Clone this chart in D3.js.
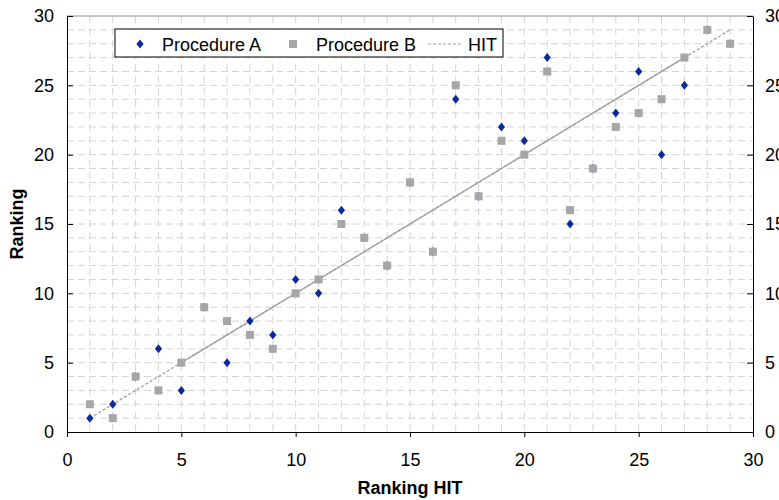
<!DOCTYPE html>
<html>
<head>
<meta charset="utf-8">
<script src="https://cdn.jsdelivr.net/npm/d3@7"></script>
<style>
  body { margin: 0; background: #fff; }
  text { font-family: "Liberation Sans", Arial, sans-serif; }
</style>
</head>
<body>
<svg id="chart" width="779" height="500"></svg>
<script>
// ranking HIT (x) for both procedures
var rankHit = [1, 2, 3, 4, 5, 6, 7, 8, 9, 10, 11, 12, 13, 14, 15,
               16, 17, 18, 19, 20, 21, 22, 23, 24, 25, 26, 27, 28, 29];
var procA = [1, 2, 4, 6, 3, 9, 5, 8, 7, 11, 10, 16, 14, 12, 18,
             13, 24, 17, 22, 21, 27, 15, 19, 23, 26, 20, 25, 29, 28];
var procB = [2, 1, 4, 3, 5, 9, 8, 7, 6, 10, 11, 15, 14, 12, 18,
             13, 25, 17, 21, 20, 26, 16, 19, 22, 23, 24, 27, 29, 28];
var hitLine = [1, 29];      // dashed reference line y = x
var hitSolid = [5, 27];     // solid part of it
var ticks = [0, 5, 10, 15, 20, 25, 30];
var legendNames = ["Procedure A", "Procedure B", "HIT"];

var plotLeft = 67, plotRight = 753, plotTop = 16, plotBottom = 432;
var blue = "#0a2a9e", grey = "#a6a6a6", lineGrey = "#a0a0a0";

var svg = d3.select("#chart");

var x = d3.scaleLinear().domain([0, 30]).range([plotLeft, plotRight]);
var y = d3.scaleLinear().domain([0, 30]).range([plotBottom, plotTop]);

// grid lines every unit
var grid = svg.append("g").attr("class", "grid");
grid.selectAll(".vg")
    .data(d3.range(1, 30))
  .enter().append("line")
    .attr("x1", function(d) { return x(d); })
    .attr("x2", function(d) { return x(d); })
    .attr("y1", plotTop)
    .attr("y2", plotBottom)
    .attr("stroke", "#d4d4d4")
    .attr("stroke-dasharray", "7,5");
grid.selectAll(".hg")
    .data(d3.range(1, 30))
  .enter().append("line")
    .attr("x1", plotLeft)
    .attr("x2", plotRight)
    .attr("y1", function(d) { return y(d); })
    .attr("y2", function(d) { return y(d); })
    .attr("stroke", "#d4d4d4")
    .attr("stroke-dasharray", "7,4");

// top border
svg.append("line")
    .attr("x1", plotLeft).attr("x2", plotRight)
    .attr("y1", plotTop).attr("y2", plotTop)
    .attr("stroke", "#8c8c8c");

// axes
var xAxis = d3.axisBottom(x).tickValues(ticks).tickSize(5).tickSizeOuter(0).tickPadding(16);
var yAxis = d3.axisLeft(y).tickValues(ticks).tickSize(-6).tickSizeOuter(0).tickPadding(13);
var yAxisR = d3.axisRight(y).tickValues(ticks).tickSize(-6).tickSizeOuter(0).tickPadding(12);

function styleAxis(g) {
  g.select(".domain").attr("stroke", "#000");
  g.selectAll(".tick line").attr("stroke", "#000");
  g.selectAll(".tick text")
      .attr("font-size", "18px")
      .attr("font-family", "Liberation Sans, Arial, sans-serif")
      .attr("fill", "#000");
}

svg.append("g").attr("transform", "translate(0," + plotBottom + ")").call(xAxis).call(styleAxis);
svg.append("g").attr("transform", "translate(" + plotLeft + ",0)").call(yAxis).call(styleAxis);
svg.append("g").attr("transform", "translate(" + plotRight + ",0)").call(yAxisR).call(styleAxis);

// HIT line
svg.append("line")
    .attr("x1", x(hitLine[0])).attr("y1", y(hitLine[0]))
    .attr("x2", x(hitLine[1])).attr("y2", y(hitLine[1]))
    .attr("stroke", lineGrey)
    .attr("stroke-width", 1.3)
    .attr("stroke-dasharray", "3,2");
svg.append("line")
    .attr("x1", x(hitSolid[0])).attr("y1", y(hitSolid[0]))
    .attr("x2", x(hitSolid[1])).attr("y2", y(hitSolid[1]))
    .attr("stroke", lineGrey)
    .attr("stroke-width", 1.3);

var diamond = "M0,-4.5L3.6,0L0,4.5L-3.6,0Z";

// Procedure A
svg.append("g").selectAll("path")
    .data(rankHit.map(function(d, i) { return [d, procA[i]]; }))
  .enter().append("path")
    .attr("d", diamond)
    .attr("transform", function(d) { return "translate(" + x(d[0]) + "," + y(d[1]) + ")"; })
    .attr("fill", blue);

// Procedure B
svg.append("g").selectAll("rect")
    .data(rankHit.map(function(d, i) { return [d, procB[i]]; }))
  .enter().append("rect")
    .attr("x", function(d) { return x(d[0]) - 4; })
    .attr("y", function(d) { return y(d[1]) - 4; })
    .attr("width", 8)
    .attr("height", 8)
    .attr("fill", grey);

// legend
var legend = svg.append("g").attr("transform", "translate(115,29)");
legend.append("rect")
    .attr("width", 388).attr("height", 28)
    .attr("fill", "#fff").attr("stroke", "#000");
legend.append("path")
    .attr("d", diamond)
    .attr("transform", "translate(25,15)")
    .attr("fill", blue);
legend.append("rect")
    .attr("x", 174).attr("y", 11).attr("width", 8).attr("height", 8)
    .attr("fill", grey);
legend.append("line")
    .attr("x1", 313).attr("x2", 348).attr("y1", 15).attr("y2", 15)
    .attr("stroke", lineGrey).attr("stroke-dasharray", "3,2");
legend.selectAll("text")
    .data(legendNames)
  .enter().append("text")
    .attr("x", function(d, i) { return [47, 201, 353][i]; })
    .attr("y", 22)
    .attr("font-size", "18px")
    .text(function(d) { return d; });

// axis titles
svg.append("text")
    .attr("x", (plotLeft + plotRight) / 2)
    .attr("y", 494)
    .attr("text-anchor", "middle")
    .attr("font-size", "18px")
    .attr("font-weight", "bold")
    .text("Ranking HIT");
svg.append("text")
    .attr("transform", "translate(23," + (plotTop + plotBottom) / 2 + ") rotate(-90)")
    .attr("text-anchor", "middle")
    .attr("font-size", "18px")
    .attr("font-weight", "bold")
    .text("Ranking");
</script>
</body>
</html>
